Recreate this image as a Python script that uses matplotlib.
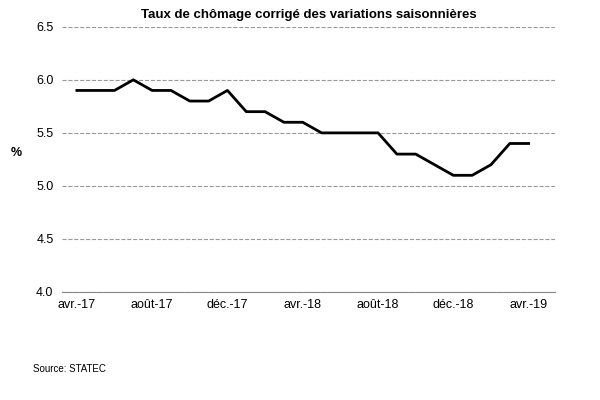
import matplotlib.pyplot as plt

months = ['avr.-17', 'mai-17', 'juin-17', 'juil.-17', 'août-17', 'sept.-17', 'oct.-17', 'nov.-17',
          'déc.-17', 'janv.-18', 'févr.-18', 'mars-18', 'avr.-18', 'mai-18', 'juin-18', 'juil.-18',
          'août-18', 'sept.-18', 'oct.-18', 'nov.-18', 'déc.-18', 'janv.-19', 'févr.-19', 'mars-19', 'avr.-19']
rate = [5.9, 5.9, 5.9, 6.0, 5.9, 5.9, 5.8, 5.8, 5.9, 5.7, 5.7, 5.6, 5.6,
        5.5, 5.5, 5.5, 5.5, 5.3, 5.3, 5.2, 5.1, 5.1, 5.2, 5.4, 5.4]

plt.rcParams['font.family'] = ['Liberation Sans', 'DejaVu Sans']
fig = plt.figure(figsize=(6, 4), dpi=100)
ax = fig.add_axes([0.103, 0.27, 0.822, 0.663])

x = list(range(len(months)))
ax.plot(x, rate, color='black', linewidth=2)

ax.set_ylim(4.0, 6.5)
ax.set_yticks([4.0, 4.5, 5.0, 5.5, 6.0, 6.5])
ax.set_yticklabels(['4.0', '4.5', '5.0', '5.5', '6.0', '6.5'], fontsize=9)
ax.set_xlim(-0.8, 25.4)
ax.set_xticks(x[::4])
ax.set_xticklabels(months[::4], fontsize=9)
ax.tick_params(axis='y', length=0, pad=6)
ax.tick_params(axis='x', length=0, pad=5)
ax.grid(axis='y', linestyle='--', color='#999999', linewidth=0.8)
for s in ['top', 'right', 'left']:
    ax.spines[s].set_visible(False)
ax.spines['bottom'].set_color('#888888')
ax.set_ylabel('%', rotation=0, fontsize=9, fontweight='bold', labelpad=14)

ax.set_title('Taux de chômage corrigé des variations saisonnières', fontsize=9.5, fontweight='bold', pad=6)
fig.text(0.055, 0.07, 'Source: STATEC', fontsize=7)

fig.savefig('out.png')
